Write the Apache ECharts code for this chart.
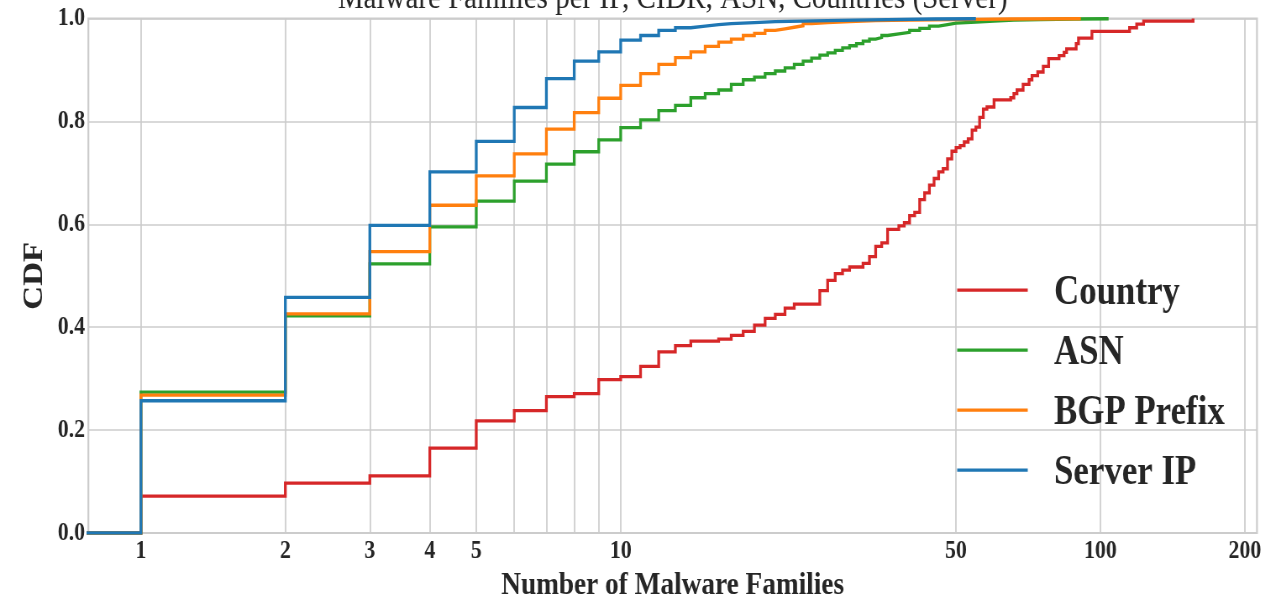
<!DOCTYPE html>
<html>
<head>
<meta charset="utf-8">
<script src="https://cdn.jsdelivr.net/npm/echarts@6/dist/echarts.min.js"></script>
<style>
html, body { margin: 0; padding: 0; width: 1281px; height: 600px; overflow: hidden; background: #ffffff; }
#chart { width: 1525px; height: 600px; transform: scaleX(0.84); transform-origin: 0 0; }
</style>
</head>
<body>
<div id="chart"></div>
<script>
// ---- Data (x = number of malware families, y = CDF) ----
const countryX = [0.7, 1, 2, 3, 4, 5, 6, 7, 8, 9, 10, 11, 12, 13, 14, 16, 17, 18, 19, 20, 21, 22, 23, 26, 27, 28, 29, 30, 32, 33, 34, 35, 36, 38, 39, 40, 41, 42, 43, 44, 45, 46, 47, 48, 49, 50, 51, 52, 53, 54, 55, 56, 57, 58, 60, 65, 66, 67, 69, 71, 72, 74, 76, 78, 82, 84, 85, 89, 90, 96, 115, 119, 123, 156];
const countryY = [0, 0.0715, 0.097, 0.111, 0.165, 0.218, 0.238, 0.265, 0.271, 0.298, 0.304, 0.324, 0.352, 0.364, 0.373, 0.377, 0.384, 0.392, 0.404, 0.417, 0.425, 0.437, 0.445, 0.471, 0.491, 0.504, 0.511, 0.517, 0.524, 0.537, 0.557, 0.564, 0.590, 0.597, 0.603, 0.617, 0.623, 0.648, 0.661, 0.676, 0.689, 0.702, 0.708, 0.727, 0.742, 0.749, 0.753, 0.760, 0.766, 0.783, 0.789, 0.808, 0.824, 0.828, 0.842, 0.846, 0.854, 0.861, 0.872, 0.881, 0.889, 0.896, 0.907, 0.922, 0.928, 0.934, 0.941, 0.951, 0.962, 0.975, 0.982, 0.989, 0.995, 1.0];

const asnX = [0.7, 1, 2, 3, 4, 5, 6, 7, 8, 9, 10, 11, 12, 13, 14, 15, 16, 17, 18, 19, 20, 21, 22, 23, 24, 25, 26, 27, 28, 29, 30, 31, 32, 33, 34, 35, 36, 38, 40, 42, 44, 46, 48, 50, 55, 60, 66, 75, 88, 104];
const asnY = [0, 0.274, 0.422, 0.523, 0.595, 0.645, 0.684, 0.717, 0.741, 0.764, 0.788, 0.803, 0.821, 0.831, 0.846, 0.854, 0.861, 0.872, 0.881, 0.886, 0.893, 0.898, 0.904, 0.911, 0.917, 0.923, 0.929, 0.933, 0.938, 0.943, 0.947, 0.951, 0.956, 0.960, 0.963, 0.967, 0.970, 0.973, 0.977, 0.981, 0.985, 0.988, 0.991, 0.993, 0.995, 0.997, 0.998, 0.999, 0.9995, 1.0];

const bgpX = [0.7, 1, 2, 3, 4, 5, 6, 7, 8, 9, 10, 11, 12, 13, 14, 15, 16, 17, 18, 19, 20, 21, 22, 23, 24, 25, 27, 30, 34, 40, 50, 65, 91];
const bgpY = [0, 0.268, 0.426, 0.547, 0.637, 0.694, 0.737, 0.785, 0.817, 0.845, 0.870, 0.893, 0.911, 0.924, 0.935, 0.946, 0.954, 0.960, 0.967, 0.971, 0.977, 0.980, 0.983, 0.986, 0.990, 0.992, 0.994, 0.996, 0.997, 0.998, 0.999, 0.9995, 1.0];

const serverX = [0.7, 1, 2, 3, 4, 5, 6, 7, 8, 9, 10, 11, 12, 13, 14, 15, 16, 17, 19, 21, 24, 27, 31, 36, 45, 55];
const serverY = [0, 0.257, 0.458, 0.598, 0.702, 0.761, 0.827, 0.883, 0.917, 0.935, 0.958, 0.967, 0.977, 0.982, 0.985, 0.988, 0.990, 0.992, 0.994, 0.995, 0.996, 0.997, 0.998, 0.999, 0.9995, 1.0];

const seriesNames = ['Country', 'ASN', 'BGP Prefix', 'Server IP'];
const seriesColors = ['#d62728', '#2ca02c', '#ff7f0e', '#1f77b4'];

const xLabelTicks = [1, 2, 3, 4, 5, 10, 50, 100, 200];
const xGridTicks = [1, 2, 3, 4, 5, 6, 7, 8, 9, 10, 50, 100, 200];
const yTicks = [0, 0.2, 0.4, 0.6, 0.8, 1.0];

const titleText = 'Malware Families per IP, CIDR, ASN, Countries (Server)';
const xName = 'Number of Malware Families';
const yName = 'CDF';

// ---- Chart ----
const FONT = '"Liberation Serif", "Times New Roman", serif';
const TXT = '#262626';
const GRIDC = '#cccccc';

const GRID_L = 105.2, GRID_R = 28.6, CANVAS_W = 1525;

function pairs(xs, ys) { return xs.map((x, i) => [x, ys[i]]); }
const allData = [pairs(countryX, countryY), pairs(asnX, asnY), pairs(bgpX, bgpY), pairs(serverX, serverY)];

// legend handle: a thin bar at the top of a taller (invisible) box, so that
// the label sits slightly lower than the line, as in the reference
const legendIcon = 'path://M0,0h84v3.2h-84z M0,9h0.001v0.001h-0.001z';

const chart = echarts.init(document.getElementById('chart'), null, { renderer: 'canvas' });
chart.setOption({
  animation: false,
  backgroundColor: '#ffffff',
  title: {
    text: titleText,
    left: (GRID_L + (CANVAS_W - GRID_R)) / 2,
    textAlign: 'center',
    padding: 0,
    top: -19,
    textStyle: { fontFamily: FONT, fontWeight: 'normal', fontSize: 34.5, color: TXT }
  },
  grid: {
    left: GRID_L, right: GRID_R, top: 18.5, bottom: 67,
    containLabel: false,
    outerBoundsMode: 'none',
    show: true, borderColor: GRIDC, borderWidth: 2.2, backgroundColor: 'transparent'
  },
  legend: {
    orient: 'vertical',
    left: 1139.5,
    top: 272,
    padding: 0,
    itemWidth: 84.5,
    itemHeight: 9,
    itemGap: 18,
    icon: legendIcon,
    data: seriesNames,
    textStyle: { fontFamily: FONT, fontWeight: 'bold', fontSize: 41.5, lineHeight: 42, color: TXT, padding: [0, 0, 0, 26] }
  },
  xAxis: {
    type: 'log',
    logBase: 10,
    min: 0.777,
    max: 212,
    name: xName,
    nameLocation: 'middle',
    nameGap: 34.5,
    nameTextStyle: { fontFamily: FONT, fontWeight: 'bold', fontSize: 32.5, color: TXT },
    axisLine: { show: false },
    axisTick: { show: false, customValues: xGridTicks },
    axisLabel: {
      customValues: xLabelTicks,
      margin: 5,
      fontFamily: FONT, fontWeight: 'bold', fontSize: 26, color: TXT,
      formatter: v => String(Math.round(v))
    },
    splitLine: { show: true, lineStyle: { color: GRIDC, width: 1.7 } },
    minorTick: { show: false },
    minorSplitLine: { show: false }
  },
  yAxis: {
    type: 'value',
    min: 0,
    max: 1,
    interval: 0.2,
    name: yName,
    nameLocation: 'middle',
    nameRotate: 90,
    nameGap: 43,
    nameTextStyle: { fontFamily: FONT, fontWeight: 'bold', fontSize: 33, color: TXT },
    axisLine: { show: false },
    axisTick: { show: false },
    axisLabel: {
      margin: 4,
      fontFamily: FONT, fontWeight: 'bold', fontSize: 26, color: TXT,
      formatter: v => v.toFixed(1)
    },
    splitLine: { show: true, lineStyle: { color: GRIDC, width: 1.5 } }
  },
  series: seriesNames.map((name, i) => ({
    name: name,
    type: 'line',
    step: 'end',
    data: allData[i],
    symbol: 'none',
    showSymbol: false,
    clip: true,
    z: 2 + i,
    color: seriesColors[i],
    lineStyle: { color: seriesColors[i], width: 3.3, cap: 'butt', join: 'miter' },
    emphasis: { disabled: true }
  }))
});
</script>
</body>
</html>
